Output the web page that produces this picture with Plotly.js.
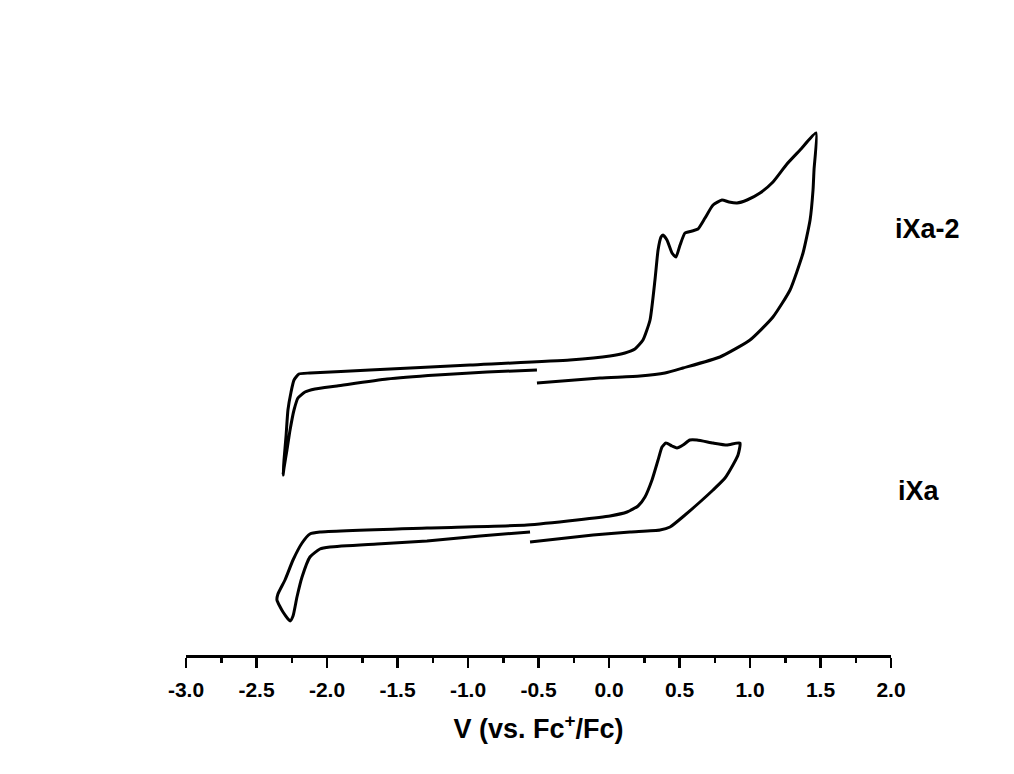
<!DOCTYPE html>
<html>
<head>
<meta charset="utf-8">
<script src="https://cdn.plot.ly/plotly-3.0.1.min.js"></script>
<style>
  html, body { margin: 0; padding: 0; background: #ffffff; }
  #chart { width: 1014px; height: 774px; }
</style>
</head>
<body>
<div id="chart"></div>
<script>
// Potential (V vs. Fc+/Fc) and current (arbitrary units, stacked offsets) for each CV trace
const ixa2Potential = [
  -0.511, -0.865, -1.220, -1.574, -1.929, -2.085, -2.156, -2.206, -2.234, -2.262, -2.284, -2.305, -2.312,
  -2.305, -2.291, -2.277, -2.255, -2.234, -2.199, -2.121, -1.695, -0.986, -0.277, 0.007, 0.113, 0.184,
  0.241, 0.291, 0.326, 0.348, 0.369, 0.383, 0.411, 0.447, 0.475, 0.504, 0.539, 0.589, 0.631, 0.681,
  0.738, 0.801, 0.851, 0.908, 0.979, 1.071, 1.163, 1.262, 1.355, 1.468,
  1.454, 1.447, 1.426, 1.376, 1.284, 1.163, 1.000, 0.787, 0.525, 0.397, 0.220, -0.064, -0.511
];
const ixa2Current = [
  285, 283, 280, 276, 269, 266, 263, 257, 245, 225, 205, 187, 180,
  195, 218, 245, 263, 275, 281, 282, 285, 290, 295, 299, 302, 306,
  315, 335, 375, 405, 418, 420, 415, 402, 398, 410, 422, 424, 426, 437,
  450, 455, 453, 452, 455, 462, 473, 491, 505, 522,
  485, 465, 435, 402, 365, 338, 315, 298, 287, 282, 279, 277, 272
];

const ixaPotential = [
  -0.560, -0.915, -1.291, -1.645, -1.979, -2.050, -2.121, -2.177, -2.213, -2.241, -2.262, -2.312, -2.355,
  -2.348, -2.298, -2.241, -2.177, -2.121, -2.050, -1.291, -0.582, -0.227, 0.007, 0.128, 0.206, 0.255,
  0.305, 0.348, 0.376, 0.404, 0.447, 0.482, 0.525, 0.574, 0.624, 0.738, 0.837, 0.929,
  0.915, 0.879, 0.823, 0.738, 0.645, 0.539, 0.433, 0.362, 0.149, -0.113, -0.560
];
const ixaCurrent = [
  123, 119, 114, 111, 108, 106, 98, 78, 58, 39, 34, 43, 55,
  61, 75, 95, 112, 121, 123, 127, 130, 135, 139, 143, 149, 158,
  175, 195, 208, 212, 209, 207, 210, 215, 215, 212, 210, 212,
  200, 190, 177, 165, 153, 140, 128, 125, 123, 120, 113
];

const traceNames = ["iXa-2", "iXa"];
const tickValues = [-3.0, -2.5, -2.0, -1.5, -1.0, -0.5, 0.0, 0.5, 1.0, 1.5, 2.0];
const tickLabels = ["-3.0", "-2.5", "-2.0", "-1.5", "-1.0", "-0.5", "0.0", "0.5", "1.0", "1.5", "2.0"];

const FONT = "Arial, 'Liberation Sans', Helvetica, sans-serif";
const lineStyle = { color: "#000000", width: 3, shape: "spline", smoothing: 0.5 };

const data = [
  { x: ixa2Potential, y: ixa2Current, name: traceNames[0], mode: "lines", line: lineStyle, hoverinfo: "x+y" },
  { x: ixaPotential, y: ixaCurrent, name: traceNames[1], mode: "lines", line: lineStyle, hoverinfo: "x+y" }
];

const layout = {
  width: 1014,
  height: 774,
  paper_bgcolor: "#ffffff",
  plot_bgcolor: "#ffffff",
  showlegend: false,
  margin: { l: 186, r: 123, t: 20, b: 119 },
  font: { family: FONT, color: "#000000" },
  xaxis: {
    range: [-3, 2],
    showgrid: false,
    zeroline: false,
    showline: true,
    linecolor: "#000000",
    linewidth: 2.5,
    ticks: "outside",
    ticklen: 10,
    tickwidth: 2.5,
    tickcolor: "#000000",
    tickmode: "array",
    tickvals: tickValues,
    ticktext: tickLabels,
    ticklabelstandoff: 4,
    tickfont: { family: FONT, size: 21, weight: "bold", color: "#000000" },
    minor: { dtick: 0.25, tick0: -3, ticks: "outside", ticklen: 5, tickwidth: 2.5, tickcolor: "#000000", showgrid: false },
    title: {
      text: "V (vs. Fc<sup>+</sup>/Fc)",
      font: { family: FONT, size: 27, weight: "bold", color: "#000000" },
      standoff: 20
    }
  },
  yaxis: {
    range: [0, 635],
    visible: false,
    showgrid: false,
    zeroline: false
  },
  annotations: [
    { text: traceNames[0], xref: "paper", yref: "paper", x: 1.052, y: 0.671, showarrow: false,
      xanchor: "center", yanchor: "middle", font: { family: FONT, size: 27, weight: "bold", color: "#000000" } },
    { text: traceNames[1], xref: "paper", yref: "paper", x: 1.040, y: 0.258, showarrow: false,
      xanchor: "center", yanchor: "middle", font: { family: FONT, size: 27, weight: "bold", color: "#000000" } }
  ]
};

Plotly.newPlot("chart", data, layout, { displayModeBar: false, staticPlot: true });
</script>
</body>
</html>
